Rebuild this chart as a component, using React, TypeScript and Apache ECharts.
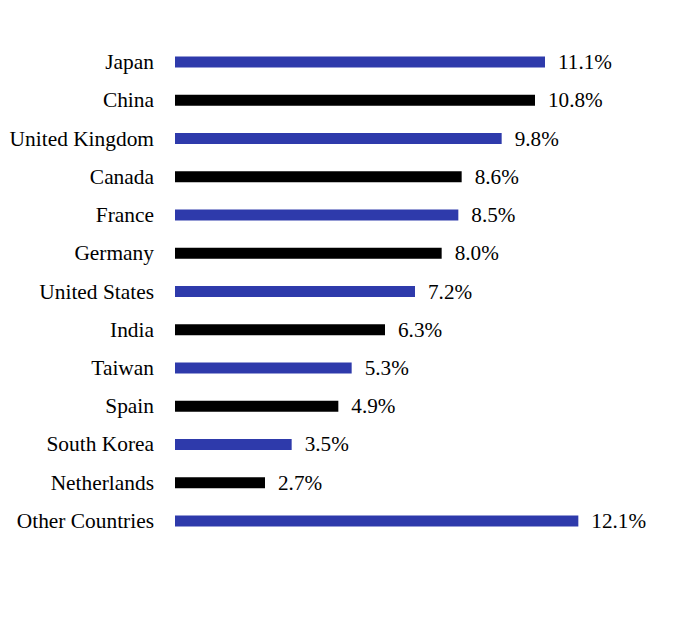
import React, { useEffect, useRef } from "react";
import * as echarts from "echarts";

const countries = [
  "Japan",
  "China",
  "United Kingdom",
  "Canada",
  "France",
  "Germany",
  "United States",
  "India",
  "Taiwan",
  "Spain",
  "South Korea",
  "Netherlands",
  "Other Countries",
];
const shares = [11.1, 10.8, 9.8, 8.6, 8.5, 8.0, 7.2, 6.3, 5.3, 4.9, 3.5, 2.7, 12.1];
const palette = ["#2e3aab", "#000000"];

export default function App() {
  const ref = useRef<HTMLDivElement>(null);
  useEffect(() => {
    if (!ref.current) return;
    const chart = echarts.init(ref.current, null, { renderer: "svg" });
    const font = "Liberation Serif";
    chart.setOption({
      animation: false,
      backgroundColor: "#ffffff",
      textStyle: { fontFamily: font },
      grid: { left: 175, right: 9, top: 43, bottom: 84, containLabel: false },
      xAxis: {
        type: "value",
        min: 0,
        max: 15,
        show: false,
      },
      yAxis: {
        type: "category",
        data: countries,
        inverse: true,
        axisLine: { show: false },
        axisTick: { show: false },
        splitLine: { show: false },
        axisLabel: {
          color: "#000",
          fontFamily: font,
          fontSize: 21.4,
          margin: 21,
        },
      },
      series: [
        {
          type: "bar",
          barWidth: 11,
          data: shares.map((v, i) => ({
            value: v,
            itemStyle: { color: palette[i % 2] },
          })),
          label: {
            show: true,
            position: "right",
            distance: 13,
            color: "#000",
            fontFamily: font,
            fontSize: 21.2,
            formatter: (p: any) => p.value.toFixed(1) + "%",
          },
        },
      ],
    });
    return () => chart.dispose();
  }, []);
  return (
    <div
      ref={ref}
      style={{ position: "absolute", left: 0, top: 0, width: 684, height: 624 }}
    />
  );
}
